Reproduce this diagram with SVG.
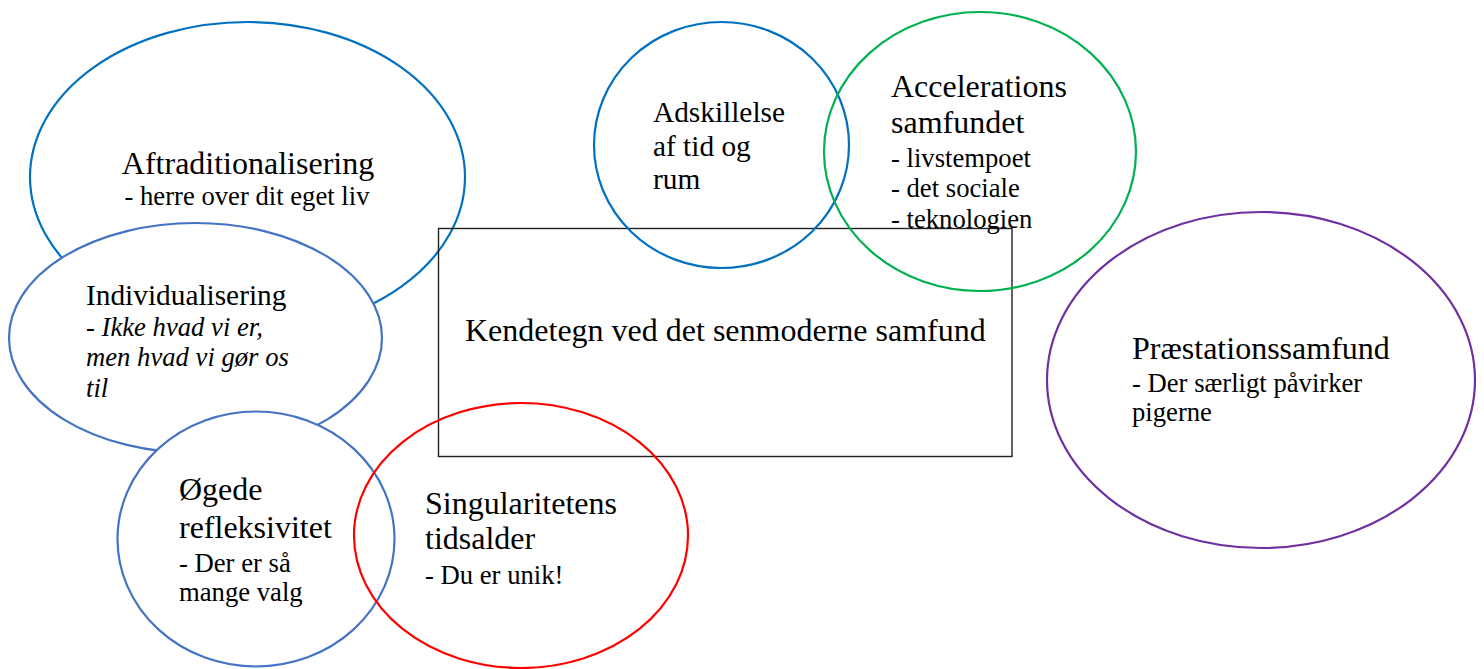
<svg xmlns="http://www.w3.org/2000/svg" width="1484" height="669" viewBox="0 0 1484 669" font-family="'Liberation Serif', 'Times New Roman', 'DejaVu Serif', serif">
<style>
text{fill:#000}
.t32{font-size:32px}
.t29{font-size:29.33px}
.t27{font-size:26.67px}
.it{font-style:italic}
.e{stroke-width:2.2}
.nf{fill:none}
.wf{fill:#fff}
</style>
<rect width="1484" height="669" fill="#fff"/>
<g id="aftraditionalisering">
<ellipse class="e nf" cx="247.5" cy="177" rx="217.5" ry="155" stroke="#0070C0"/>
<text class="t32" x="248" y="174" text-anchor="middle">Aftraditionalisering</text>
<text class="t27" x="247" y="205" text-anchor="middle">- herre over dit eget liv</text>
</g>
<g id="center">
<rect x="438.5" y="228.5" width="573.5" height="228" fill="none" stroke="#222" stroke-width="1.4"/>
<text class="t32" x="465" y="341">Kendetegn ved det senmoderne samfund</text>
</g>
<g id="individualisering">
<ellipse class="e wf" cx="195.5" cy="338" rx="186.5" ry="115" stroke="#4472C4"/>
<text class="t29" x="86" y="305">Individualisering</text>
<text class="t27 it" x="86" y="336">- Ikke hvad vi er,</text>
<text class="t27 it" x="86" y="366">men hvad vi gør os</text>
<text class="t27 it" x="86" y="397">til</text>
</g>
<g id="oegede">
<ellipse class="e wf" cx="256" cy="539" rx="138.5" ry="127.5" stroke="#4472C4"/>
<text class="t32" x="179" y="500">Øgede</text>
<text class="t32" x="179" y="538">refleksivitet</text>
<text class="t27" x="179" y="572">- Der er så</text>
<text class="t27" x="179" y="601">mange valg</text>
</g>
<g id="singularitet">
<ellipse class="e nf" cx="521" cy="535.5" rx="167" ry="132.5" stroke="#FF0000"/>
<text class="t32" x="425" y="514">Singularitetens</text>
<text class="t32" x="425" y="549">tidsalder</text>
<text class="t27" x="425" y="584">- Du er unik!</text>
</g>
<g id="adskillelse">
<ellipse class="e nf" cx="721.5" cy="145" rx="127.5" ry="123" stroke="#0070C0"/>
<text class="t29" x="653" y="122">Adskillelse</text>
<text class="t29" x="653" y="156">af tid og</text>
<text class="t29" x="653" y="189">rum</text>
</g>
<g id="acceleration">
<ellipse class="e nf" cx="980" cy="151.5" rx="156" ry="139.5" stroke="#00B050"/>
<text class="t32" x="891" y="97">Accelerations</text>
<text class="t32" x="891" y="133">samfundet</text>
<text class="t27" x="891" y="167">- livstempoet</text>
<text class="t27" x="891" y="197">- det sociale</text>
<text class="t27" x="891" y="228">- teknologien</text>
</g>
<g id="praestation">
<ellipse class="e nf" cx="1261" cy="380" rx="214" ry="168" stroke="#7030A0"/>
<text class="t32" x="1132" y="359">Præstationssamfund</text>
<text class="t27" x="1132" y="392">- Der særligt påvirker</text>
<text class="t27" x="1132" y="421">pigerne</text>
</g>
<g id="connectors"/>
</svg>
